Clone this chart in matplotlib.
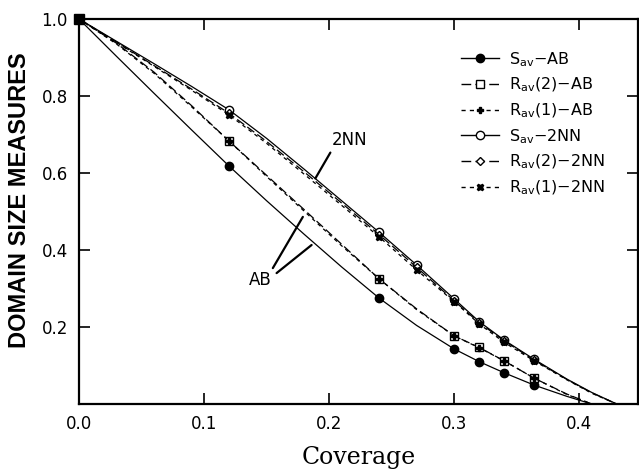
import matplotlib
matplotlib.use("Agg")
import matplotlib.pyplot as plt

# marker points
ab_x = [0.12, 0.24, 0.30, 0.32, 0.34, 0.364]
sav_ab = [0.618, 0.275, 0.143, 0.110, 0.081, 0.049]
rav2_ab = [0.683, 0.325, 0.177, 0.147, 0.112, 0.067]
rav1_ab = [0.683, 0.325, 0.177, 0.146, 0.112, 0.067]

nn_x = [0.12, 0.24, 0.27, 0.30, 0.32, 0.34, 0.364]
sav_nn = [0.764, 0.446, 0.361, 0.273, 0.214, 0.166, 0.116]
rav2_nn = [0.755, 0.440, 0.355, 0.268, 0.211, 0.164, 0.114]
rav1_nn = [0.751, 0.434, 0.348, 0.266, 0.208, 0.160, 0.112]

# hand-drawn curves
ab_cx = [0, 0.03, 0.06, 0.09, 0.12, 0.15, 0.18, 0.21, 0.24, 0.27, 0.30, 0.32, 0.34, 0.364, 0.39, 0.41]
sav_ab_c = [1.0, 0.903, 0.807, 0.712, 0.618, 0.528, 0.441, 0.356, 0.275, 0.204, 0.143, 0.110, 0.081, 0.049, 0.020, 0.0]
rav2_ab_c = [1.0, 0.937, 0.862, 0.775, 0.683, 0.594, 0.505, 0.415, 0.325, 0.247, 0.177, 0.147, 0.112, 0.067, 0.026, 0.0]
rav1_ab_c = [1.0, 0.935, 0.859, 0.772, 0.683, 0.591, 0.501, 0.411, 0.325, 0.245, 0.177, 0.146, 0.112, 0.067, 0.025, 0.0]

nn_cx = [0, 0.03, 0.06, 0.09, 0.12, 0.15, 0.18, 0.21, 0.24, 0.27, 0.30, 0.32, 0.34, 0.364, 0.39, 0.41, 0.43]
sav_nn_c = [1.0, 0.942, 0.884, 0.825, 0.764, 0.690, 0.610, 0.528, 0.446, 0.361, 0.273, 0.214, 0.166, 0.116, 0.065, 0.030, 0.0]
rav2_nn_c = [1.0, 0.940, 0.879, 0.818, 0.755, 0.682, 0.603, 0.522, 0.440, 0.355, 0.268, 0.211, 0.164, 0.114, 0.064, 0.029, 0.0]
rav1_nn_c = [1.0, 0.939, 0.877, 0.815, 0.751, 0.677, 0.597, 0.516, 0.434, 0.348, 0.266, 0.208, 0.160, 0.112, 0.063, 0.028, 0.0]

x_ticks = [0.0, 0.1, 0.2, 0.3, 0.4]
y_ticks = [0.2, 0.4, 0.6, 0.8, 1.0]

plt.rcParams["mathtext.default"] = "regular"
fig = plt.figure(figsize=(6.39, 4.74), dpi=100)
ax = fig.add_axes([79/639, 1-404/474, (638-79)/639, (404-19)/474])

k = "black"
long_d = (0, (7, 3))
short_d = (0, (3, 3))
series = [
    (ab_x, sav_ab, ab_cx, sav_ab_c, "-", "o", k, "S$_{av}$$-$AB"),
    (ab_x, rav2_ab, ab_cx, rav2_ab_c, long_d, "s", "white", "R$_{av}$(2)$-$AB"),
    (ab_x, rav1_ab, ab_cx, rav1_ab_c, short_d, "P", k, "R$_{av}$(1)$-$AB"),
    (nn_x, sav_nn, nn_cx, sav_nn_c, "-", "o", "white", "S$_{av}$$-$2NN"),
    (nn_x, rav2_nn, nn_cx, rav2_nn_c, long_d, "D", "white", "R$_{av}$(2)$-$2NN"),
    (nn_x, rav1_nn, nn_cx, rav1_nn_c, short_d, "X", k, "R$_{av}$(1)$-$2NN"),
]
handles = []
for px, py, cx, cy, ls, mk, fc, lab in series:
    ax.plot(cx, cy, color=k, lw=0.9, ls=ls)
    ms = 4.5 if mk in ("D", "P", "X") else 6
    ax.plot(px, py, ls="none", marker=mk, ms=ms, mfc=fc, mec=k, mew=1.0)
    h, = plt.plot([], [], color=k, lw=1.0, ls=ls, marker=mk, ms=ms, mfc=fc, mec=k, mew=1.0)
    handles.append((h, lab))

ax.plot([0], [1.0], marker="s", ms=7, color=k, clip_on=False)

ax.set_xlim(0, 0.447)
ax.set_ylim(0, 1.0)
ax.set_xticks(x_ticks)
ax.set_xticklabels(["%.1f" % v for v in x_ticks])
ax.set_yticks(y_ticks)
ax.set_yticklabels(["%.1f" % v for v in y_ticks])
ax.tick_params(direction="in", top=True, right=True, length=8, width=1.2, labelsize=12, pad=8)
for s in ax.spines.values():
    s.set_linewidth(1.6)

ax.set_xlabel("Coverage", family="DejaVu Serif", fontsize=17, labelpad=9)
ax.set_ylabel("DOMAIN SIZE MEASURES", family="Liberation Sans", fontweight="bold", fontsize=17, labelpad=9)
ax.yaxis.set_label_coords(-0.085, 0.53)

ax.text(0.216, 0.686, "2NN", fontsize=12, ha="center", va="center")
ax.annotate("", xy=(0.189, 0.586), xytext=(0.201, 0.653), arrowprops=dict(arrowstyle="-", lw=1.6, shrinkA=0, shrinkB=0))
ax.text(0.145, 0.322, "AB", fontsize=12, ha="center", va="center")
ax.annotate("", xy=(0.179, 0.486), xytext=(0.155, 0.353), arrowprops=dict(arrowstyle="-", lw=1.6, shrinkA=0, shrinkB=0))
ax.annotate("", xy=(0.186, 0.413), xytext=(0.158, 0.340), arrowprops=dict(arrowstyle="-", lw=1.6, shrinkA=0, shrinkB=0))

fig.legend([h for h, _ in handles], [l for _, l in handles], loc="upper left",
           bbox_to_anchor=(453/639, 1-42/474), frameon=False, fontsize=11.5,
           handlelength=2.4, handletextpad=0.6, labelspacing=0.45, borderpad=0)

fig.savefig("out.png", dpi=100)
